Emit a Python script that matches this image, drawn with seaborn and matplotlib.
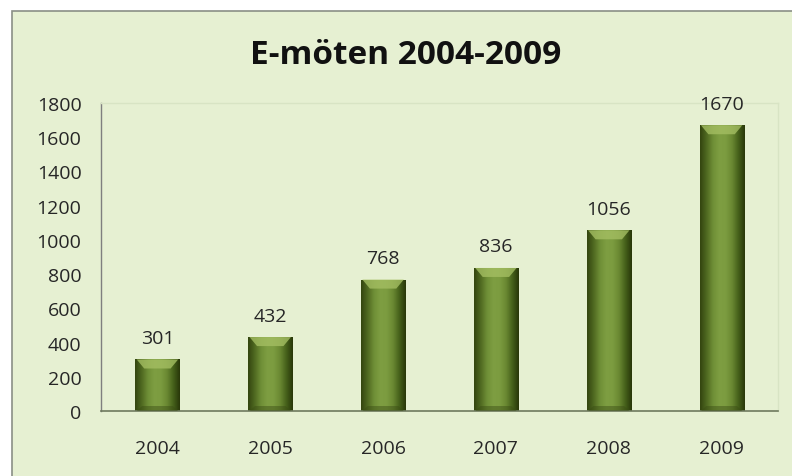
import numpy as np
import pandas as pd
import matplotlib
matplotlib.use("Agg")
import matplotlib.pyplot as plt
from matplotlib.patches import Rectangle, Polygon
from matplotlib.colors import LinearSegmentedColormap
import seaborn as sns

years = ["2004", "2005", "2006", "2007", "2008", "2009"]
counts = [301, 432, 768, 836, 1056, 1670]
title = "E-möten 2004-2009"
yticks = [0, 200, 400, 600, 800, 1000, 1200, 1400, 1600, 1800]

df = pd.DataFrame({"year": years, "count": counts})

sns.set_theme(style="white")
plt.rcParams["font.family"] = ["Open Sans", "DejaVu Sans"]

W, H = 792, 477
fig = plt.figure(figsize=(W / 100, H / 100), dpi=100)
fig.patch.set_facecolor("white")
# chart area frame
bg = Rectangle((12 / W, -0.01), 1.0, (H - 12) / H + 0.01, transform=fig.transFigure,
               facecolor="#E6F0D2", edgecolor="#8A8F86", linewidth=1.2, zorder=-10)
fig.patches.append(bg)

ax = fig.add_axes([101 / W, (H - 412) / H, (778 - 101) / W, (412 - 104) / H])
ax.set_facecolor("none")
ax.set_zorder(1)

sns.barplot(data=df, x="year", y="count", color="#76933C", width=0.39,
            saturation=1, ax=ax, zorder=2)

ax.set_ylim(0, 1800)
ax.set_yticks(yticks)
ax.set_xlabel("")
ax.set_ylabel("")
for s in ["top", "right"]:
    ax.spines[s].set_color("#D8E4C4")
    ax.spines[s].set_linewidth(1)
ax.spines["left"].set_color("#7F7F7F")
ax.spines["bottom"].set_color("#6E7A5E")
ax.spines["left"].set_linewidth(1)
ax.spines["bottom"].set_linewidth(1.2)
ax.tick_params(axis="y", length=0, pad=14, labelsize=14, labelcolor="#262626")
ax.tick_params(axis="x", length=0, pad=20.5, labelsize=14, labelcolor="#262626")

# cylinder-like gradient on bars
cmap = LinearSegmentedColormap.from_list(
    "bar", ["#33440F", "#4E6820", "#6E8E36", "#7E9E42", "#7C9C40", "#6A8832", "#45601A", "#283609"])
grad = np.linspace(0, 1, 256).reshape(1, -1)
upp = 1800 / 308.0  # data units per pixel
for p, v in zip(ax.patches, counts):
    x0, w = p.get_x(), p.get_width()
    p.set_facecolor("none")
    p.set_edgecolor("none")
    im = ax.imshow(grad, extent=[x0, x0 + w, 0, v], aspect="auto", cmap=cmap,
                   zorder=2, interpolation="bicubic")
    im.set_clip_path(p)
    # top bevel (trapezoid)
    bh = 9 * upp
    ax.add_patch(Polygon([(x0 + w * 0.03, v), (x0 + w * 0.97, v),
                          (x0 + w * 0.80, v - bh), (x0 + w * 0.20, v - bh)],
                         closed=True, facecolor="#A4BE62", edgecolor="none",
                         alpha=0.8, zorder=3))
    # bottom bevel
    ax.add_patch(Polygon([(x0 + w * 0.03, 0), (x0 + w * 0.97, 0),
                          (x0 + w * 0.85, 5 * upp), (x0 + w * 0.15, 5 * upp)],
                         closed=True, facecolor="#3A4C14", edgecolor="none",
                         alpha=0.45, zorder=3))
    ax.annotate(f"{v}", (x0 + w / 2, v), xytext=(0, 9), textcoords="offset points",
                ha="center", va="bottom", fontsize=14, color="#262626", zorder=4)

ax.set_xlim(-0.5, 5.5)
fig.text(406 / W, (H - 55) / H, title, ha="center", va="center",
         fontsize=24, fontweight="bold", color="#111111")

fig.savefig("out.png", dpi=100, facecolor=fig.get_facecolor())
